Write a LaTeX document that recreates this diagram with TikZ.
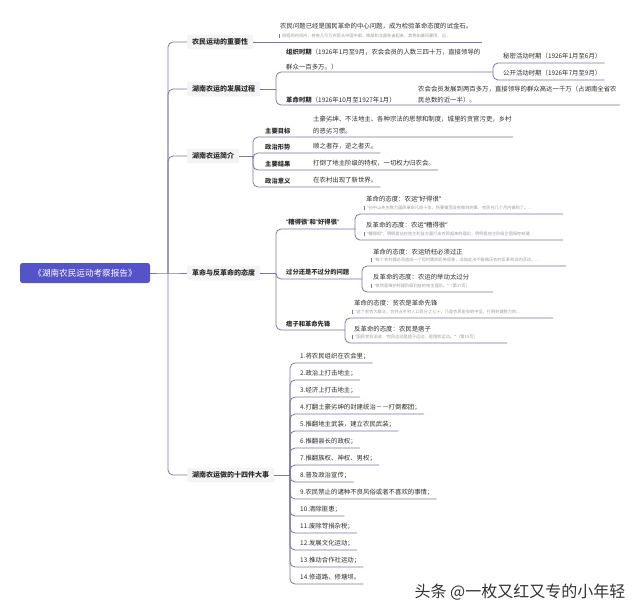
\documentclass[tikz,border=0pt]{standalone}
\usepackage{fontspec}
\setmainfont{Noto Sans CJK SC}
\newfontfamily\qfont{Noto Sans}
\newcommand{\qo}{{\qfont “}}
\newcommand{\qc}{{\qfont ”}}
\newcommand{\sqo}{{\qfont ‘}}
\newcommand{\sqc}{{\qfont ’}}
\definecolor{lc}{HTML}{7A77A6}
\definecolor{rootc}{HTML}{5553C8}
\definecolor{boxc}{HTML}{F4F4F4}
\definecolor{tc}{HTML}{2E2E2E}
\definecolor{nc}{HTML}{9C9C9C}
\newcommand{\nbar}{{\color{lc}\rule[-0.6pt]{0.5pt}{4.2pt}}\hspace{2.5pt}}
\tikzset{
  conn/.style={draw=lc, line width=0.8pt, rounded corners=5pt},
  rootbox/.style={fill=rootc, rounded corners=2.5pt, text=white, font=\fontsize{8.6}{10}\selectfont, minimum width=130pt, minimum height=20pt, inner sep=0pt},
  topic/.style={fill=boxc, rounded corners=2pt, text=tc, font=\bfseries\fontsize{7}{8}\selectfont, inner xsep=5pt, inner ysep=4pt, anchor=west},
  label/.style={text=tc, font=\bfseries\fontsize{6.3}{7}\selectfont, inner sep=0pt, anchor=west},
  txt/.style={text=tc, font=\fontsize{6.4}{7}\selectfont, inner sep=0pt, anchor=west},
  uline/.style={text=tc, font=\fontsize{6.4}{7}\selectfont, anchor=south west, inner xsep=3pt, inner ysep=3.5pt, text height=5pt, text depth=1pt},
  note/.style={text=nc, font=\fontsize{4.2}{5}\selectfont, anchor=south west, inner xsep=2pt, inner ysep=3.3pt, text height=3.5pt, text depth=0.8pt},
}
\begin{document}
\begin{tikzpicture}[x=1pt,y=-1pt]
\fill[white] (0,0) rectangle (640,613);
\useasboundingbox (0,0) rectangle (640,613);

% root and trunk
\node[rootbox] (root) at (85,273) {《湖南农民运动考察报告》};
\coordinate (tr) at (168,273);

\node[topic] (t1) at (187,42) {农民运动的重要性};
\node[topic] (t2) at (187,89) {湖南农运的发展过程};
\node[topic] (t3) at (187,156) {湖南农运简介};
\node[topic] (t4) at (187,273) {革命与反革命的态度};
\node[topic] (t5) at (187,475) {湖南农运做的十四件大事};

\draw[conn] (root.east) -- (tr) -- (t4.west);
\foreach \t in {t1,t2,t3,t5} \draw[conn] (tr) |- (\t.west);

% topic 1
\node[txt] (a1) at (280,26) {农民问题已经是国民革命的中心问题，成为检验革命态度的试金石。};
\node[note] (a1n) at (277,42) {\nbar 很短的时间内，将有几万万农民从中国中部、南部和北部各省起来，其势如暴风骤雨，迅...};
\coordinate (e1) at (482,42);
\draw[conn] (t1.east) -- (e1);

% topic 2
\coordinate (b2) at (276,89);
\draw[conn] (t2.east) -- (b2);
\node[txt] (a21) at (286,52) {\textbf{组织时期}（1926年1月至9月，农会会员的人数三四十万，直接领导的};
\node[txt] (a21b) at (286,67) {群众一百多万。）};
\coordinate (b21) at (493,72);
\draw[conn] (b2) |- (b21);
\node[uline] (a211) at (500,63) {秘密活动时期（1926年1月至6月）};
\node[uline] (a212) at (500,80) {公开活动时期（1926年7月至9月）};
\draw[conn] (b21) |- (a211.south east);
\draw[conn] (b21) |- (a212.south east);
\node[txt] (a22) at (286,100) {\textbf{革命时期}（1926年10月至1927年1月）};
\node[txt] (a22c) at (418,89) {农会会员发展到两百多万，直接领导的群众高达一千万（占湖南全省农};
\node[txt] (a22d) at (418,100) {民总数的近一半）。};
\coordinate (e22) at (620,105);
\draw[conn] (b2) |- (e22);

% topic 3
\coordinate (b3) at (253,156);
\draw[conn] (t3.east) -- (b3);
\node[label] (l31) at (265,131) {主要目标};
\node[txt] (c31a) at (313,119) {土豪劣绅、不法地主、各种宗法的思想和制度，城里的贪官污吏，乡村};
\node[txt] (c31b) at (313,131) {的恶劣习惯。};
\coordinate (e31) at (513,137);
\draw[conn] (b3) |- (e31);
\node[label] (l32) at (265,147) {政治形势};
\node[uline] (c32) at (310,153) {顺之者存，逆之者灭。};
\draw[conn] (b3) |- (c32.south east);
\node[label] (l33) at (265,164) {主要结果};
\node[uline] (c33) at (310,170) {打倒了地主阶级的特权，一切权力归农会。};
\draw[conn] (b3) |- (c33.south east);
\node[label] (l34) at (265,181) {政治意义};
\node[uline] (c34) at (310,187) {在农村出现了新世界。};
\draw[conn] (b3) |- (c34.south east);

% topic 4
\coordinate (b4) at (276,273);
\draw[conn] (t4.east) -- (b4);
\node[label] (l41) at (286,222) {\qo 糟得很\qc 和\qo 好得很\qc};
\coordinate (b41) at (355,229);
\draw[conn] (b4) |- (b41);
\node[txt] (c411) at (366,199) {革命的态度：农运\qo 好得很\qc};
\node[note] (c411n) at (362,214) {\nbar \qo 孙中山先生致力国民革命凡四十年，所要做而没有做到的事，农民在几个月内做到了。...};
\coordinate (e411) at (563,214);
\draw[conn] (b41) |- (e411);
\node[txt] (c412) at (366,225) {反革命的态度：农运\qo 糟得很\qc};
\node[note] (c412n) at (362,240) {\nbar \qo 糟得很\qc ，明明是站在地主利益方面打击农民起来的理论，明明是地主阶级企图保存封建...};
\coordinate (e412) at (563,240);
\draw[conn] (b41) |- (e412);

\node[label] (l42) at (286,272) {过分还是不过分的问题};
\coordinate (b42) at (362,279);
\draw[conn] (b4) |- (b42);
\node[txt] (c421) at (373,252) {革命的态度：农运矫枉必须过正};
\node[note] (c421n) at (369,266) {\nbar \qo 每个农村都必须造成一个短时期的恐怖现象，非如此决不能镇压农村反革命派的活动，...};
\coordinate (e421) at (566,266);
\draw[conn] (b42) |- (e421);
\node[txt] (c422) at (373,277) {反革命的态度：农运的举动太过分};
\node[note] (c422n) at (369,292) {\nbar \qo 依然是维护封建阶级利益的地主理论。\qc （第17页）};
\coordinate (e422) at (493,292);
\draw[conn] (b42) |- (e422);

\node[label] (l43) at (286,324) {痞子和革命先锋};
\coordinate (b43) at (345,330);
\draw[conn] (b4) |- (b43);
\node[txt] (c431) at (354,303) {革命的态度：贫农是革命先锋};
\node[note] (c431n) at (350,318) {\nbar \qo 这个贫农大群众，合共占乡村人口百分之七十，乃是农民协会的中坚，打倒封建势力的...};
\coordinate (e431) at (553,318);
\draw[conn] (b43) |- (e431);
\node[txt] (c432) at (354,329) {反革命的态度：农民是痞子};
\node[note] (c432n) at (350,343) {\nbar \qo 国民党右派说：\sqo 农民运动是痞子运动，是惰农运动。\sqc\qc （第19页）};
\coordinate (e432) at (507,343);
\draw[conn] (b43) |- (e432);

% topic 5
\coordinate (b5) at (290,475);
\draw[conn] (t5.east) -- (b5);
\foreach \i/\s in {1/1.将农民组织在农会里；,
                   2/2.政治上打击地主；,
                   3/3.经济上打击地主；,
                   4/4.打翻土豪劣绅的封建统治－－打倒都团；,
                   5/5.推翻地主武装，建立农民武装；,
                   6/6.推翻县长的政权；,
                   7/7.推翻族权、神权、男权；,
                   8/8.普及政治宣传；,
                   9/9.农民禁止的诸种不良风俗或者不喜欢的事情；,
                   10/10.清除匪患；,
                   11/11.废除苛捐杂税；,
                   12/12.发展文化运动；,
                   13/13.推动合作社运动；,
                   14/14.修道路、修塘坝。}{
  \node[uline] (k\i) at (297,{346+17*\i}) {\s};
  \draw[conn] (b5) |- (k\i.south east);
}

% watermark
\node[text=black!80, font=\fontsize{16}{17}\selectfont, inner sep=0pt] (wm) at (520,592) {头条 @一枚又红又专的小年轻};
\end{tikzpicture}
\end{document}
